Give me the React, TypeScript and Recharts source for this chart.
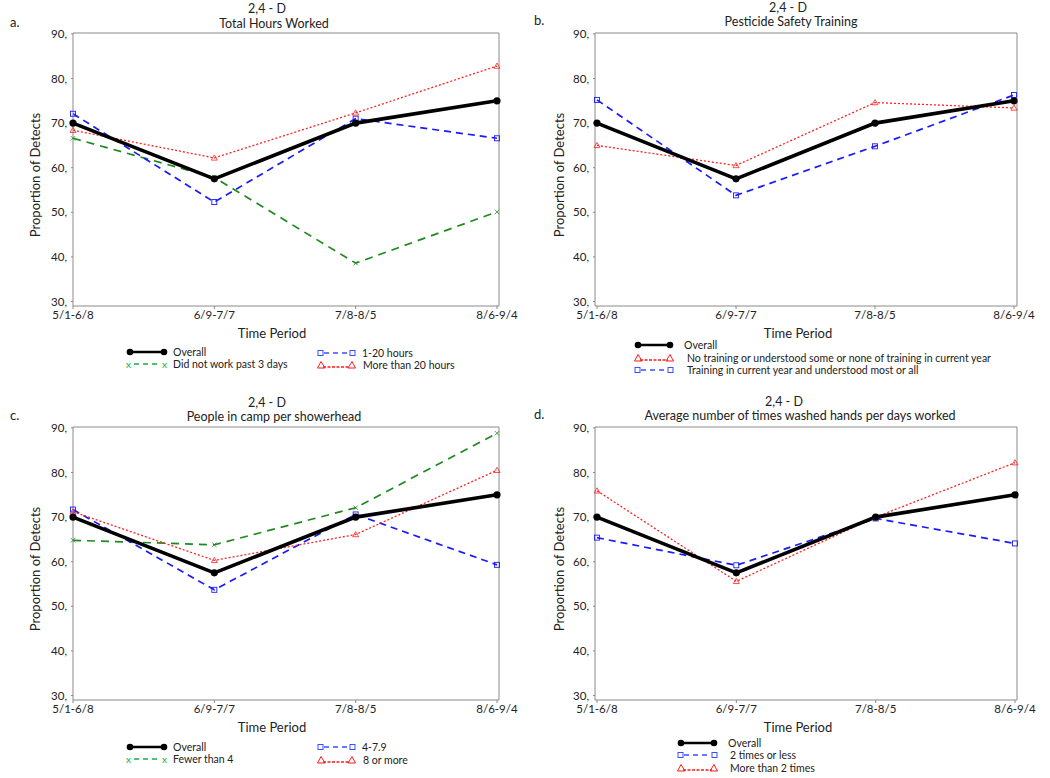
import React from "react";
import { LineChart, Line, XAxis, YAxis } from "recharts";

const periods = ["5/1-6/8", "6/9-7/7", "7/8-8/5", "8/6-9/4"];
const yTicks = [30, 40, 50, 60, 70, 80, 90];
const overall = [70, 57.5, 70, 75];

// Panel a: Total Hours Worked
const hoursNone = [66.6, 57.8, 38.6, 50.1];
const hours1to20 = [72.1, 52.3, 71.0, 66.6];
const hoursOver20 = [68.4, 62.2, 72.3, 82.8];

// Panel b: Pesticide Safety Training
const trainNo = [65.0, 60.5, 74.6, 73.4];
const trainYes = [75.2, 53.8, 64.8, 76.3];

// Panel c: People in camp per showerhead
const showerUnder4 = [64.8, 63.8, 72.1, 88.8];
const shower4to79 = [71.7, 53.7, 70.6, 59.3];
const shower8plus = [71.2, 60.3, 66.1, 80.5];

// Panel d: Average number of times washed hands per days worked
const washLess2 = [65.4, 59.2, 69.7, 64.1];
const washMore2 = [75.9, 55.6, 70.0, 82.2];

type Kind = "overall" | "green" | "blue" | "red";
type Series = { name: string; data: number[]; kind: Kind };

const FONT = "Lato, 'Open Sans', sans-serif";
const COL = { overall: "#000000", green: "#1e8a1e", blue: "#1a1aff", red: "#ff2020" };
const LEG_COL = { overall: "#000000", green: "#10b040", blue: "#3a4dff", red: "#ff1a1a" };

const Dot = ({ cx, cy, kind }: any) => {
  if (cx == null || cy == null) return null;
  if (kind === "overall") return <circle cx={cx} cy={cy} r={3.6} fill="#000" />;
  if (kind === "blue")
    return <rect x={cx - 2.5} y={cy - 2.5} width={5} height={5} fill="#fff" fillOpacity={0} stroke={COL.blue} strokeWidth={0.9} />;
  if (kind === "red")
    return <path d={`M${cx},${cy - 3} L${cx + 3},${cy + 2.2} L${cx - 3},${cy + 2.2} Z`} fill="none" stroke={COL.red} strokeWidth={0.8} />;
  return (
    <g stroke={COL.green} strokeWidth={0.8}>
      <line x1={cx - 2.2} y1={cy - 2.2} x2={cx + 2.2} y2={cy + 2.2} />
      <line x1={cx - 2.2} y1={cy + 2.2} x2={cx + 2.2} y2={cy - 2.2} />
    </g>
  );
};

const styleFor = (k: Kind) => {
  if (k === "overall") return { strokeWidth: 3.6, dash: undefined };
  if (k === "blue") return { strokeWidth: 1.7, dash: "7 5" };
  if (k === "green") return { strokeWidth: 1.7, dash: "8 6" };
  return { strokeWidth: 1.3, dash: "2 2" };
};

const LegendSample = ({ kind, w }: { kind: Kind; w: number }) => {
  const c = LEG_COL[kind];
  const h = 10;
  const m = h / 2;
  let ends: React.ReactNode = null;
  let line: React.ReactNode = null;
  if (kind === "overall") {
    line = <line x1={4} y1={m} x2={w - 4} y2={m} stroke="#000" strokeWidth={2.5} />;
    ends = (
      <>
        <circle cx={4} cy={m} r={3.3} fill="#000" />
        <circle cx={w - 4} cy={m} r={3.3} fill="#000" />
      </>
    );
  } else if (kind === "blue") {
    line = <line x1={7} y1={m} x2={w - 7} y2={m} stroke={c} strokeWidth={1.6} strokeDasharray="5 4" />;
    ends = (
      <>
        <rect x={1} y={m - 2.5} width={5} height={5} fill="none" stroke={c} strokeWidth={1} />
        <rect x={w - 6} y={m - 2.5} width={5} height={5} fill="none" stroke={c} strokeWidth={1} />
      </>
    );
  } else if (kind === "red") {
    line = <line x1={6} y1={m + 2} x2={w - 6} y2={m + 2} stroke={c} strokeWidth={1.4} strokeDasharray="3 1.5" />;
    ends = (
      <>
        <path d={`M4,${m - 3.5} L8,${m + 3} L0.5,${m + 3} Z`} fill="none" stroke={c} strokeWidth={1} />
        <path d={`M${w - 4},${m - 3.5} L${w - 0.5},${m + 3} L${w - 8},${m + 3} Z`} fill="none" stroke={c} strokeWidth={1} />
      </>
    );
  } else {
    line = <line x1={8} y1={m} x2={w - 8} y2={m} stroke={c} strokeWidth={1.6} strokeDasharray="5 4" />;
    ends = (
      <>
        <text x={0} y={m + 3.5} fontSize={10} fill={c} fontFamily={FONT}>x</text>
        <text x={w - 6} y={m + 3.5} fontSize={10} fill={c} fontFamily={FONT}>x</text>
      </>
    );
  }
  return (
    <svg width={w} height={h} style={{ display: "block", overflow: "visible" }}>
      {line}
      {ends}
    </svg>
  );
};

type LegItem = { kind: Kind; label: string; x: number; y: number; sw: number; tx: number };

type PanelProps = {
  left: number;
  top: number;
  letter: string;
  subtitle: string;
  series: Series[];
  plotTop: number; // local
  plotLeft: number;
  plotRight: number;
  padL: number;
  padR: number;
  titleX: number;
  subX: number;
  titleY: number;
  subY: number;
  ylabX: number;
  timeX: number;
  legend: LegItem[];
};

const W = 520;
const H = 390;

const Panel = (p: PanelProps) => {
  const data = periods.map((per, i) => {
    const row: any = { period: per };
    p.series.forEach((s, j) => (row["s" + j] = s.data[i]));
    return row;
  });
  const plotBottom = p.plotTop + 273;
  const xAxisH = 20;
  const margin = { top: p.plotTop, left: p.plotLeft - 40, right: W - p.plotRight, bottom: H - plotBottom - xAxisH };
  const abs = (x: number, y: number, extra: React.CSSProperties = {}): React.CSSProperties => ({
    position: "absolute",
    left: x,
    top: y,
    whiteSpace: "nowrap",
    fontFamily: FONT,
    color: "#222",
    lineHeight: 1,
    ...extra,
  });
  const order = [...p.series.map((s, j) => ({ s, j }))].sort((a, b) =>
    a.s.kind === "overall" ? 1 : b.s.kind === "overall" ? -1 : 0
  );
  return (
    <div style={{ position: "absolute", left: p.left, top: p.top, width: W, height: H }}>
      <LineChart width={W} height={H} data={data} margin={margin}>
        <XAxis
          dataKey="period"
          xAxisId="b"
          height={xAxisH}
          padding={{ left: p.padL, right: p.padR }}
          stroke="#8a8a8a"
          tickSize={3}
          tickMargin={2}
          interval={0}
          tick={{ fill: "#222", fontSize: 11.5, fontFamily: FONT }}
        />
        <XAxis dataKey="period" xAxisId="t" orientation="top" mirror tick={false} tickLine={false} stroke="#8a8a8a" padding={{ left: p.padL, right: p.padR }} />
        <YAxis
          yAxisId="l"
          width={40}
          domain={[29, 90.2]}
          ticks={yTicks}
          allowDataOverflow
          stroke="#8a8a8a"
          tickSize={2}
          tickMargin={4}
          tickFormatter={(v: number) => v + ","}
          tick={{ fill: "#222", fontSize: 11.5, fontFamily: FONT }}
        />
        <YAxis yAxisId="r" orientation="right" mirror tick={false} tickLine={false} domain={[29, 90.2]} stroke="#8a8a8a" />
        {order.map(({ s, j }) => {
          const st = styleFor(s.kind);
          return (
            <Line
              key={j}
              xAxisId="b"
              yAxisId="l"
              dataKey={"s" + j}
              name={s.name}
              type="linear"
              stroke={COL[s.kind]}
              strokeWidth={st.strokeWidth}
              strokeDasharray={st.dash}
              isAnimationActive={false}
              dot={(dp: any) => <Dot key={"d" + j + "-" + dp.index} cx={dp.cx} cy={dp.cy} kind={s.kind} />}
              activeDot={false}
            />
          );
        })}
      </LineChart>
      <div style={abs(p.titleX, p.titleY, { transform: "translate(-50%,-50%)", fontSize: 12.5 })}>2,4 - D</div>
      <div style={abs(p.subX, p.subY, { transform: "translate(-50%,-50%)", fontSize: 12.5 })}>{p.subtitle}</div>
      <div style={abs(p.left === 0 ? 10 : 14, p.subY - 2, { transform: "translate(0,-50%)", fontSize: 13 })}>{p.letter}</div>
      <div
        style={abs(p.ylabX, p.plotTop + 142, {
          transform: "translate(-50%,-50%) rotate(-90deg)",
          fontSize: 13,
        })}
      >
        Proportion of Detects
      </div>
      <div style={abs(p.timeX, plotBottom + 27, { transform: "translate(-50%,-50%)", fontSize: 13 })}>Time Period</div>
      {p.legend.map((it, i) => (
        <React.Fragment key={i}>
          <div style={{ position: "absolute", left: it.x, top: it.y - 5 }}>
            <LegendSample kind={it.kind} w={it.sw} />
          </div>
          <div style={abs(it.tx, it.y, { transform: "translate(0,-50%)", fontSize: 10.5, color: "#222" })}>{it.label}</div>
        </React.Fragment>
      ))}
    </div>
  );
};

export default function App() {
  return (
    <div style={{ position: "absolute", left: 0, top: 0, width: 1050, height: 778, background: "#fff", overflow: "hidden" }}>
      <Panel
        left={0}
        top={0}
        letter="a."
        subtitle="Total Hours Worked"
        series={[
          { name: "Did not work past 3 days", data: hoursNone, kind: "green" },
          { name: "1-20 hours", data: hours1to20, kind: "blue" },
          { name: "More than 20 hours", data: hoursOver20, kind: "red" },
          { name: "Overall", data: overall, kind: "overall" },
        ]}
        plotTop={33}
        plotLeft={73}
        plotRight={499}
        padL={0}
        padR={2}
        titleX={267}
        subX={274}
        titleY={9}
        subY={24}
        ylabX={35}
        timeX={272}
        legend={[
          { kind: "overall", label: "Overall", x: 126, y: 352, sw: 42, tx: 173 },
          { kind: "green", label: "Did not work past 3 days", x: 126, y: 364, sw: 42, tx: 173 },
          { kind: "blue", label: "1-20 hours", x: 317, y: 353, sw: 39, tx: 362 },
          { kind: "red", label: "More than 20 hours", x: 317, y: 365, sw: 39, tx: 363 },
        ]}
      />
      <Panel
        left={520}
        top={0}
        letter="b."
        subtitle="Pesticide Safety Training"
        series={[
          { name: "No training or understood some or none of training in current year", data: trainNo, kind: "red" },
          { name: "Training in current year and understood most or all", data: trainYes, kind: "blue" },
          { name: "Overall", data: overall, kind: "overall" },
        ]}
        plotTop={33}
        plotLeft={75}
        plotRight={497}
        padL={2}
        padR={3}
        titleX={268}
        subX={271}
        titleY={8}
        subY={22}
        ylabX={39}
        timeX={278}
        legend={[
          { kind: "overall", label: "Overall", x: 114, y: 345, sw: 40, tx: 164 },
          { kind: "red", label: "No training or understood some or none of training in current year", x: 114, y: 358, sw: 40, tx: 167 },
          { kind: "blue", label: "Training in current year and understood most or all", x: 114, y: 370, sw: 40, tx: 167 },
        ]}
      />
      <Panel
        left={0}
        top={390}
        letter="c."
        subtitle="People in camp per showerhead"
        series={[
          { name: "Fewer than 4", data: showerUnder4, kind: "green" },
          { name: "4-7.9", data: shower4to79, kind: "blue" },
          { name: "8 or more", data: shower8plus, kind: "red" },
          { name: "Overall", data: overall, kind: "overall" },
        ]}
        plotTop={37}
        plotLeft={73}
        plotRight={499}
        padL={0}
        padR={2}
        titleX={267}
        subX={274}
        titleY={13}
        subY={27}
        ylabX={35}
        timeX={272}
        legend={[
          { kind: "overall", label: "Overall", x: 126, y: 357, sw: 42, tx: 173 },
          { kind: "green", label: "Fewer than 4", x: 126, y: 369, sw: 42, tx: 173 },
          { kind: "blue", label: "4-7.9", x: 317, y: 357, sw: 39, tx: 362 },
          { kind: "red", label: "8 or more", x: 317, y: 370, sw: 39, tx: 363 },
        ]}
      />
      <Panel
        left={520}
        top={390}
        letter="d."
        subtitle="Average number of times washed hands per days worked"
        series={[
          { name: "2 times or less", data: washLess2, kind: "blue" },
          { name: "More than 2 times", data: washMore2, kind: "red" },
          { name: "Overall", data: overall, kind: "overall" },
        ]}
        plotTop={37}
        plotLeft={75}
        plotRight={497}
        padL={2}
        padR={2}
        titleX={264}
        subX={280}
        titleY={12}
        subY={26}
        ylabX={39}
        timeX={278}
        legend={[
          { kind: "overall", label: "Overall", x: 157, y: 353, sw: 41, tx: 208 },
          { kind: "blue", label: "2 times or less", x: 157, y: 365, sw: 41, tx: 210 },
          { kind: "red", label: "More than 2 times", x: 157, y: 378, sw: 41, tx: 210 },
        ]}
      />
    </div>
  );
}
